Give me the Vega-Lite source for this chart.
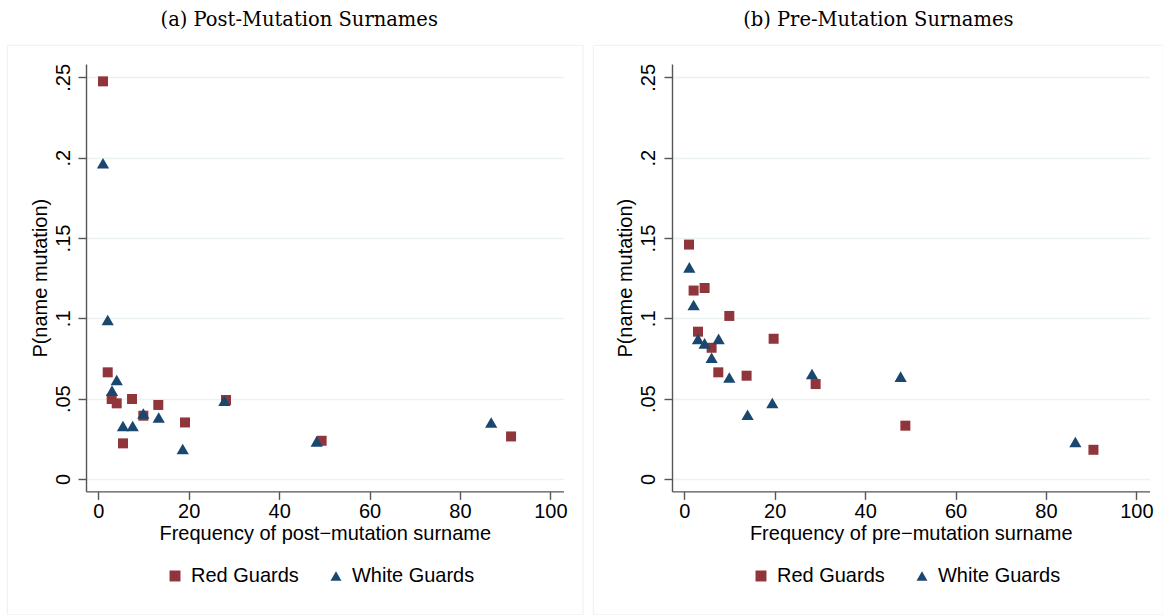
{
  "$schema": "https://vega.github.io/schema/vega-lite/v6.json",
  "background": "white",
  "padding": {"left": 6, "top": 10, "right": 0, "bottom": 0},
  "datasets": {
    "post": [
      {"freq": 1.04, "p": 0.2475, "group": "Red Guards"},
      {"freq": 2.08, "p": 0.0664, "group": "Red Guards"},
      {"freq": 2.96, "p": 0.0498, "group": "Red Guards"},
      {"freq": 4.07, "p": 0.0471, "group": "Red Guards"},
      {"freq": 5.46, "p": 0.0222, "group": "Red Guards"},
      {"freq": 7.46, "p": 0.0498, "group": "Red Guards"},
      {"freq": 9.96, "p": 0.0394, "group": "Red Guards"},
      {"freq": 13.27, "p": 0.0461, "group": "Red Guards"},
      {"freq": 19.18, "p": 0.0352, "group": "Red Guards"},
      {"freq": 28.25, "p": 0.0492, "group": "Red Guards"},
      {"freq": 49.4, "p": 0.0238, "group": "Red Guards"},
      {"freq": 91.3, "p": 0.0265, "group": "Red Guards"},
      {"freq": 1.04, "p": 0.1965, "group": "White Guards"},
      {"freq": 2.08, "p": 0.099, "group": "White Guards"},
      {"freq": 3.03, "p": 0.055, "group": "White Guards"},
      {"freq": 4.07, "p": 0.0616, "group": "White Guards"},
      {"freq": 5.46, "p": 0.033, "group": "White Guards"},
      {"freq": 7.6, "p": 0.033, "group": "White Guards"},
      {"freq": 9.96, "p": 0.0408, "group": "White Guards"},
      {"freq": 13.36, "p": 0.0383, "group": "White Guards"},
      {"freq": 18.67, "p": 0.0187, "group": "White Guards"},
      {"freq": 27.88, "p": 0.0487, "group": "White Guards"},
      {"freq": 48.3, "p": 0.0234, "group": "White Guards"},
      {"freq": 86.9, "p": 0.0352, "group": "White Guards"}
    ],
    "pre": [
      {"freq": 1.04, "p": 0.1459, "group": "Red Guards"},
      {"freq": 2.06, "p": 0.1173, "group": "Red Guards"},
      {"freq": 3.03, "p": 0.0917, "group": "Red Guards"},
      {"freq": 4.49, "p": 0.1189, "group": "Red Guards"},
      {"freq": 6.04, "p": 0.0817, "group": "Red Guards"},
      {"freq": 7.52, "p": 0.0664, "group": "Red Guards"},
      {"freq": 9.96, "p": 0.1015, "group": "Red Guards"},
      {"freq": 13.78, "p": 0.0643, "group": "Red Guards"},
      {"freq": 19.76, "p": 0.0873, "group": "Red Guards"},
      {"freq": 29.05, "p": 0.0591, "group": "Red Guards"},
      {"freq": 48.9, "p": 0.0332, "group": "Red Guards"},
      {"freq": 90.5, "p": 0.0182, "group": "Red Guards"},
      {"freq": 1.11, "p": 0.1317, "group": "White Guards"},
      {"freq": 2.06, "p": 0.1083, "group": "White Guards"},
      {"freq": 3.03, "p": 0.0872, "group": "White Guards"},
      {"freq": 4.49, "p": 0.0844, "group": "White Guards"},
      {"freq": 6.04, "p": 0.0755, "group": "White Guards"},
      {"freq": 7.59, "p": 0.0872, "group": "White Guards"},
      {"freq": 9.96, "p": 0.0632, "group": "White Guards"},
      {"freq": 14.0, "p": 0.04, "group": "White Guards"},
      {"freq": 19.47, "p": 0.0473, "group": "White Guards"},
      {"freq": 28.25, "p": 0.0654, "group": "White Guards"},
      {"freq": 47.85, "p": 0.0637, "group": "White Guards"},
      {"freq": 86.5, "p": 0.023, "group": "White Guards"}
    ]
  },
  "config": {
    "font": "Liberation Sans",
    "view": {"stroke": null},
    "concat": {"spacing": 8},
    "axis": {
      "labelFont": "Liberation Sans",
      "titleFont": "Liberation Sans",
      "labelFontSize": 20,
      "titleFontSize": 20,
      "titleFontWeight": "normal",
      "labelColor": "#000000",
      "titleColor": "#000000",
      "domainColor": "#555555",
      "domainWidth": 1.4,
      "tickColor": "#555555",
      "tickWidth": 1.4,
      "tickSize": 8,
      "gridColor": "#eaf2f3",
      "gridWidth": 1.6,
      "labelOverlap": false,
      "labelFlush": false
    },
    "title": {"font": "DejaVu Serif", "fontSize": 19.5, "fontWeight": "normal", "color": "#000000", "frame": "bounds"},
    "legend": {
      "orient": "none",
      "direction": "horizontal",
      "labelFont": "Liberation Sans",
      "labelFontSize": 20,
      "labelColor": "#000000",
      "labelOffset": 6,
      "columnPadding": 27,
      "symbolSize": 120,
      "symbolOpacity": 1,
      "symbolStrokeWidth": 0,
      "padding": 0
    }
  },
  "resolve": {
    "scale": {"color": "independent", "shape": "independent"},
    "legend": {"color": "independent", "shape": "independent"}
  },
  "hconcat": [
    {
      "title": {"text": "(a) Post-Mutation Surnames", "offset": 14, "dx": 4, "frame": "bounds"},
      "width": 477.5,
      "height": 427.4,
      "layer": [
        {
          "data": {"values": [{}]},
          "mark": {"type": "rect", "fill": null, "stroke": "#eaf2f3", "strokeWidth": 1},
          "encoding": {
            "x": {"datum": -20.13, "type": "quantitative"},
            "x2": {"datum": 107.24},
            "y": {"datum": 0.2699, "type": "quantitative"},
            "y2": {"datum": -0.0845}
          }
        },
        {
          "data": {"name": "post"},
          "mark": {"type": "point", "filled": true, "opacity": 1},
          "encoding": {
            "x": {
              "field": "freq", "type": "quantitative",
              "scale": {"domain": [-2.72, 102.9], "nice": false, "zero": false},
              "axis": {"values": [0, 20, 40, 60, 80, 100], "title": "Frequency of post−mutation surname", "grid": false, "labelPadding": 2, "titlePadding": 2}
            },
            "y": {
              "field": "p", "type": "quantitative",
              "scale": {"domain": [-0.0077, 0.2583], "nice": false, "zero": false},
              "axis": {
                "values": [0, 0.05, 0.1, 0.15, 0.2, 0.25],
                "labelExpr": "datum.value == 0 ? '0' : replace(format(datum.value, '.2~f'), /^0/, '')",
                "labelAngle": -90,
                "title": "P(name mutation)",
                "grid": true,
                "labelPadding": 5,
                "titlePadding": 3
              }
            },
            "color": {
              "field": "group", "type": "nominal",
              "scale": {"domain": ["Red Guards", "White Guards"], "range": ["#90353b", "#1a476f"]},
              "legend": {"title": null, "legendX": 79, "legendY": 502}
            },
            "shape": {
              "field": "group", "type": "nominal",
              "scale": {"domain": ["Red Guards", "White Guards"], "range": ["square", "triangle-up"]},
              "legend": {"title": null, "legendX": 79, "legendY": 502}
            },
            "size": {
              "field": "group", "type": "nominal",
              "scale": {"domain": ["Red Guards", "White Guards"], "range": [100, 150]},
              "legend": null
            }
          }
        }
      ]
    },
    {
      "title": {"text": "(b) Pre-Mutation Surnames", "offset": 14, "frame": "bounds"},
      "width": 477.5,
      "height": 427.4,
      "layer": [
        {
          "data": {"values": [{}]},
          "mark": {"type": "rect", "fill": null, "stroke": "#eaf2f3", "strokeWidth": 1},
          "encoding": {
            "x": {"datum": -20.13, "type": "quantitative"},
            "x2": {"datum": 105.95},
            "y": {"datum": 0.2699, "type": "quantitative"},
            "y2": {"datum": -0.0845}
          }
        },
        {
          "data": {"name": "pre"},
          "mark": {"type": "point", "filled": true, "opacity": 1},
          "encoding": {
            "x": {
              "field": "freq", "type": "quantitative",
              "scale": {"domain": [-2.72, 102.9], "nice": false, "zero": false},
              "axis": {"values": [0, 20, 40, 60, 80, 100], "title": "Frequency of pre−mutation surname", "grid": false, "labelPadding": 2, "titlePadding": 2}
            },
            "y": {
              "field": "p", "type": "quantitative",
              "scale": {"domain": [-0.0077, 0.2583], "nice": false, "zero": false},
              "axis": {
                "values": [0, 0.05, 0.1, 0.15, 0.2, 0.25],
                "labelExpr": "datum.value == 0 ? '0' : replace(format(datum.value, '.2~f'), /^0/, '')",
                "labelAngle": -90,
                "title": "P(name mutation)",
                "grid": true,
                "labelPadding": 5,
                "titlePadding": 3
              }
            },
            "color": {
              "field": "group", "type": "nominal",
              "scale": {"domain": ["Red Guards", "White Guards"], "range": ["#90353b", "#1a476f"]},
              "legend": {"title": null, "legendX": 79, "legendY": 502}
            },
            "shape": {
              "field": "group", "type": "nominal",
              "scale": {"domain": ["Red Guards", "White Guards"], "range": ["square", "triangle-up"]},
              "legend": {"title": null, "legendX": 79, "legendY": 502}
            },
            "size": {
              "field": "group", "type": "nominal",
              "scale": {"domain": ["Red Guards", "White Guards"], "range": [100, 150]},
              "legend": null
            }
          }
        }
      ]
    }
  ]
}
